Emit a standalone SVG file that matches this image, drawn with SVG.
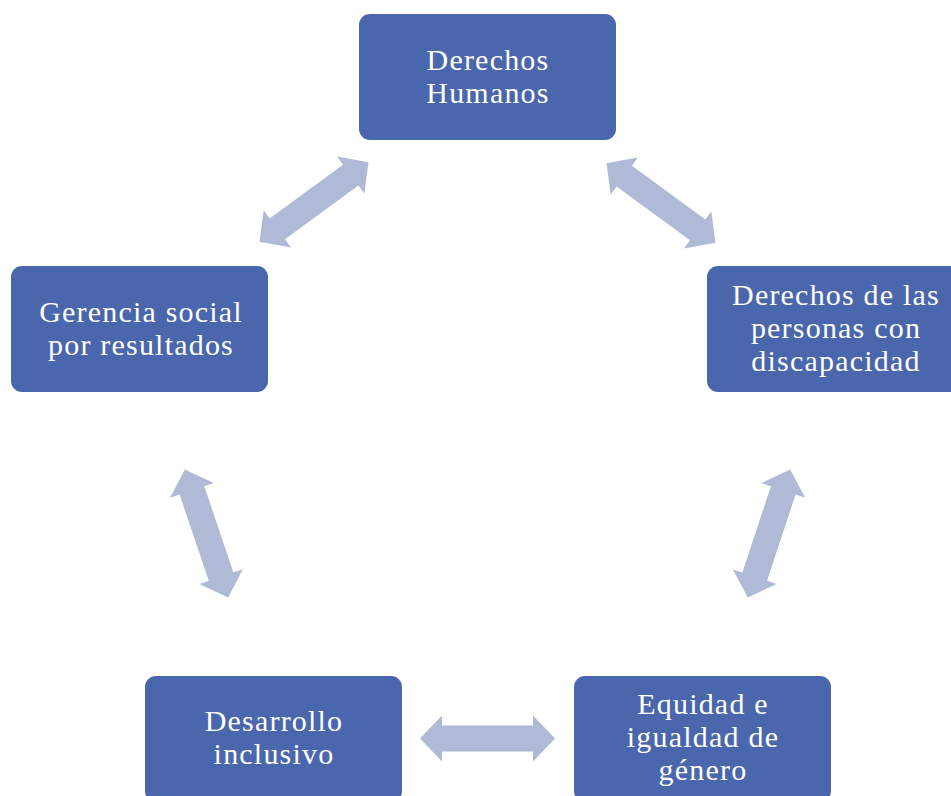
<svg xmlns="http://www.w3.org/2000/svg" width="951" height="796" viewBox="0 0 951 796">
<defs>
<style>
.box{fill:#4A66AC;}
.t{font-family:"Liberation Serif","Times New Roman",serif;font-size:30px;letter-spacing:1.2px;fill:#FFFFFF;text-anchor:middle;}
.arr{fill:#B0B9D5;}
</style>
<path id="dbl" d="M -67.5 0 L -45.5 -23 L -45.5 -13 L 45.5 -13 L 45.5 -23 L 67.5 0 L 45.5 23 L 45.5 13 L -45.5 13 L -45.5 23 Z"/>
</defs>
<rect width="951" height="796" fill="#FFFFFF"/>
<g id="connectors">
<use href="#dbl" class="arr" transform="translate(314,202) rotate(-36.2)"/>
<use href="#dbl" class="arr" transform="translate(661,203) rotate(36.2)"/>
<use href="#dbl" class="arr" transform="translate(206.5,533.5) rotate(71.3)"/>
<use href="#dbl" class="arr" transform="translate(769,533.5) rotate(108.3)"/>
<use href="#dbl" class="arr" transform="translate(487.5,738.5)"/>
</g>
<g id="n1">
<rect class="box" x="359" y="14" width="257" height="126" rx="11"/>
<text class="t" x="488" y="70">Derechos</text>
<text class="t" x="488" y="103">Humanos</text>
</g>
<g id="n2">
<rect class="box" x="707" y="266" width="257" height="126" rx="11"/>
<text class="t" x="836" y="305">Derechos de las</text>
<text class="t" x="836" y="338">personas con</text>
<text class="t" x="836" y="371">discapacidad</text>
</g>
<g id="n3">
<rect class="box" x="574" y="676" width="257" height="126" rx="11"/>
<text class="t" x="703" y="714">Equidad e</text>
<text class="t" x="703" y="747">igualdad de</text>
<text class="t" x="703" y="780">género</text>
</g>
<g id="n4">
<rect class="box" x="145" y="676" width="257" height="126" rx="11"/>
<text class="t" x="274" y="731">Desarrollo</text>
<text class="t" x="274" y="764">inclusivo</text>
</g>
<g id="n5">
<rect class="box" x="11" y="266" width="257" height="126" rx="11"/>
<text class="t" x="141" y="322">Gerencia social</text>
<text class="t" x="141" y="355">por resultados</text>
</g>
</svg>
